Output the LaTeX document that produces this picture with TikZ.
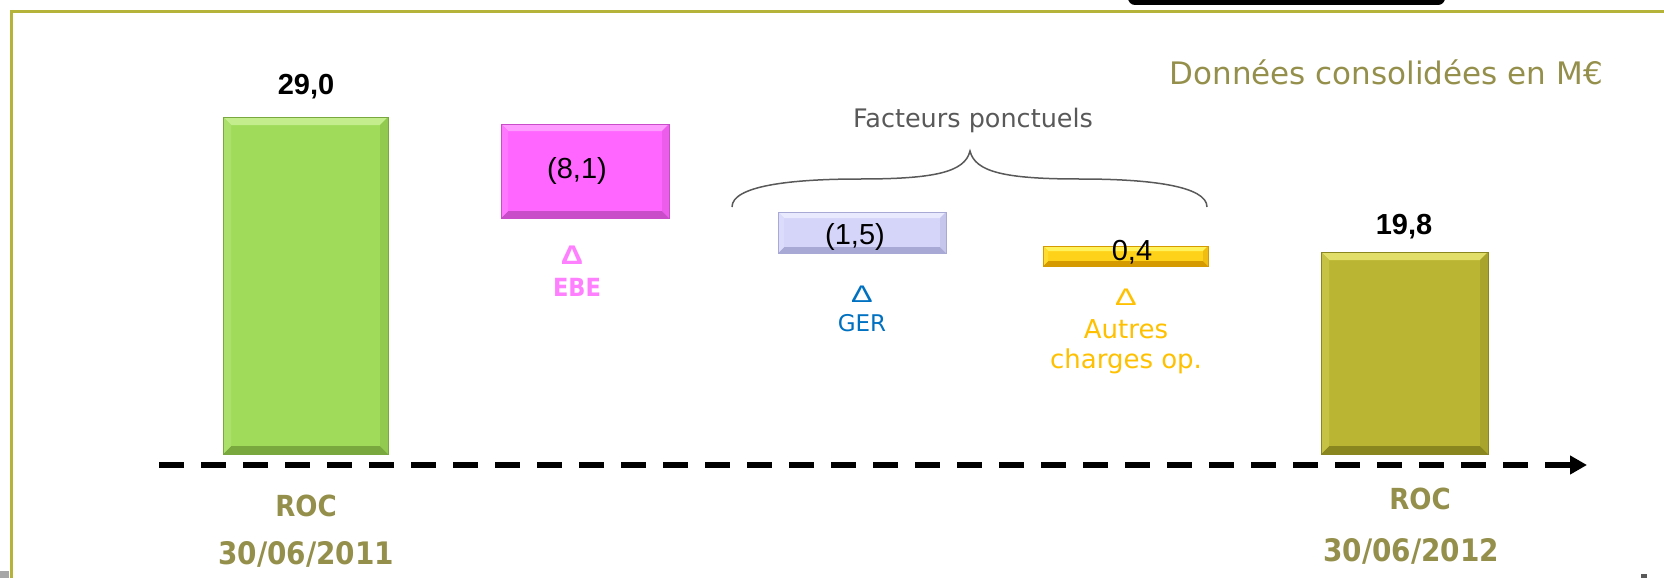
\documentclass[tikz,border=0pt]{standalone}
\usepackage{fontspec}
\setmainfont{Liberation Sans}
\newfontfamily\lab{DejaVu Sans Condensed}
\newfontfamily\labw{DejaVu Sans}
\usetikzlibrary{calc,arrows.meta}
\definecolor{frameol}{HTML}{B5B33A}
\definecolor{textol}{HTML}{948F4B}
\definecolor{grbar}{HTML}{A0DC5A}
\definecolor{grlt}{HTML}{C4EE8E}
\definecolor{grdk}{HTML}{78A83E}
\definecolor{pkbar}{HTML}{FF66FF}
\definecolor{pklt}{HTML}{FF9CFF}
\definecolor{pkdk}{HTML}{C94CC9}
\definecolor{lvbar}{HTML}{D5D5FA}
\definecolor{lvlt}{HTML}{EAEAFF}
\definecolor{lvdk}{HTML}{A9A9D6}
\definecolor{gdbar}{HTML}{FFD21A}
\definecolor{gdlt}{HTML}{FFF25A}
\definecolor{gddk}{HTML}{D49A00}
\definecolor{olbar}{HTML}{BAB633}
\definecolor{ollt}{HTML}{E2DE6A}
\definecolor{oldk}{HTML}{8A861F}
\definecolor{pinktxt}{HTML}{FF80FF}
\definecolor{bluetxt}{HTML}{0070C0}
\definecolor{goldtxt}{HTML}{FFC000}
\definecolor{graytxt}{HTML}{595959}
\newcommand\bevelbox[5]{%
  \fill[#2] (#1.north west) -- (#1.north east) -- ($(#1.north east)+(-#5,#5)$) -- ($(#1.north west)+(#5,#5)$) -- cycle;
  \fill[#3] (#1.south west) -- (#1.south east) -- ($(#1.south east)+(-#5,-#5)$) -- ($(#1.south west)+(#5,-#5)$) -- cycle;
  \fill[#2!30!#4] (#1.north west) -- ($(#1.north west)+(#5,#5)$) -- ($(#1.south west)+(#5,-#5)$) -- (#1.south west) -- cycle;
  \fill[#3!35!#4] (#1.north east) -- ($(#1.north east)+(-#5,#5)$) -- ($(#1.south east)+(-#5,-#5)$) -- (#1.south east) -- cycle;
  \draw[#3, line width=0.8pt] (#1.north west) rectangle (#1.south east);
}
\newcommand\wdelta{\scalebox{1.35}[1]{Δ}}
\newcommand\bdelta{\scalebox{1.15}[1]{Δ}}
\begin{document}
\begin{tikzpicture}[x=1pt,y=-1pt,
  bar/.style={rectangle, inner sep=0pt, outer sep=0pt},
  num/.style={inner sep=0pt, font=\fontsize{29}{33}\selectfont},
  bignum/.style={inner sep=0pt, font=\fontsize{29}{33}\selectfont\bfseries},
  olab/.style={inner sep=0pt, text=textol, font=\lab\fontsize{29}{34}\selectfont\bfseries},
  odate/.style={inner sep=0pt, text=textol, font=\lab\fontsize{31}{36}\selectfont\bfseries},
  clab/.style={inner sep=0pt, font=\labw\fontsize{26}{30}\selectfont},
  dlab/.style={inner sep=0pt, font=\fontsize{24}{28}\selectfont}]
\useasboundingbox (0,0) rectangle (1664,578);
% frame
\fill[black, rounded corners=7pt] (1128,-20) rectangle (1445,5);
\draw[frameol, line width=3pt] (11,578) -- (11,12) -- (1664,12);
\fill[gray!70] (0,571) rectangle (9,578);
\fill[graytxt] (1641,574) rectangle (1647,578);
% bars
\node[bar, fill=grbar, minimum width=165pt, minimum height=337pt] (roc1) at (305.5,285.5) {};
\bevelbox{roc1}{grlt}{grdk}{grbar}{8}
\node[bar, fill=pkbar, minimum width=168pt, minimum height=94pt] (ebe) at (585,171) {};
\bevelbox{ebe}{pklt}{pkdk}{pkbar}{7}
\node[bar, fill=lvbar, minimum width=168pt, minimum height=41pt] (ger) at (862,232.5) {};
\bevelbox{ger}{lvlt}{lvdk}{lvbar}{6}
\node[bar, fill=gdbar, minimum width=165pt, minimum height=20pt] (aut) at (1125.5,256) {};
\bevelbox{aut}{gdlt}{gddk}{gdbar}{5}
\node[bar, fill=olbar, minimum width=167pt, minimum height=202pt] (roc2) at (1404.5,353) {};
\bevelbox{roc2}{ollt}{oldk}{olbar}{8}
% values
\node[bignum] (v1) at (306,87) {29,0};
\node[bignum] (v5) at (1404,227) {19,8};
\node[num] (v2) at (577,171) {(8,1)};
\node[num] (v3) at (855,237) {(1,5)};
\node[num] (v4) at (1132,252) {0,4};
% delta labels
\node[dlab, text=pinktxt, font=\fontsize{27}{30}\selectfont\bfseries] (d1) at (572,255) {\bdelta};
\node[inner sep=0pt, text=pinktxt, font=\lab\fontsize{25}{30}\selectfont\bfseries] (l1) at (577,287) {EBE};
\node[dlab, text=bluetxt] (d2) at (862,294) {\wdelta};
\node[clab, text=bluetxt, font=\labw\fontsize{23}{28}\selectfont] (l2) at (862,323) {GER};
\node[dlab, text=goldtxt] (d3) at (1126,297) {\wdelta};
\node[clab, text=goldtxt] (l3) at (1126,329) {Autres};
\node[clab, text=goldtxt] (l3b) at (1126,361) {charges op.};
% brace
\node[clab, text=graytxt, font=\labw\fontsize{25.5}{30}\selectfont] (fp) at (973,120) {Facteurs ponctuels};
\coordinate (brL) at (732,207);
\coordinate (brT) at (970,151);
\coordinate (brR) at (1207,207);
\draw[graytxt, line width=1.5pt] (brL) .. controls (732,186) and (790,179) .. (860,179)
  .. controls (935,179) and (965,172) .. (brT)
  .. controls (975,172) and (1005,179) .. (1080,179)
  .. controls (1150,179) and (1207,186) .. (brR);
% title
\node[inner sep=0pt, anchor=east, text=textol, font=\labw\fontsize{31}{36}\selectfont] (title) at (1603,72) {Données consolidées en M€};
% axis
\coordinate (axL) at (159,465);
\coordinate (axR) at (1587,465);
\draw[line width=5.5pt, dash pattern=on 25pt off 17pt, -{Triangle[length=17pt,width=18pt]}] (axL) -- (axR);
% bottom labels
\node[olab] (r1) at (306,506) {ROC};
\node[odate] (dt1) at (306,554) {30/06/2011};
\node[olab] (r2) at (1420,499) {ROC};
\node[odate] (dt2) at (1411,551) {30/06/2012};
\end{tikzpicture}
\end{document}
